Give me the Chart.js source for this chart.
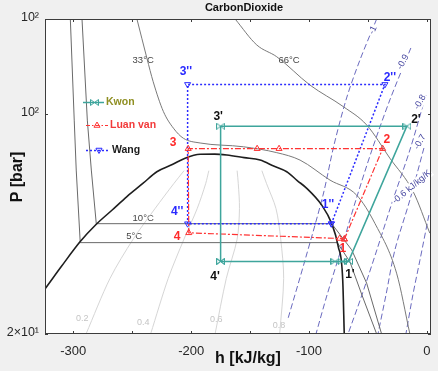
<!DOCTYPE html>
<html>
<head>
<meta charset="utf-8">
<title>CarbonDioxide p-h</title>
<script src="https://cdn.jsdelivr.net/npm/chart.js@4.4.0/dist/chart.umd.min.js"></script>
<style>
  html, body { margin: 0; padding: 0; background: #f0f0f0; }
  #wrap { width: 438px; height: 371px; }
</style>
</head>
<body>
<div id="wrap"><canvas id="phChart" width="438" height="371"></canvas></div>
<script>
// axis ranges and ticks
const hRange = [-324, 3.5];
const pRange = [20, 200];
const xTicks = [-300, -200, -100, 0];
const xTickMarks = [-300, -250, -200, -150, -100, -50, 0];
const yTicks = [20, 100, 200];
const yTickLabels = ['2×10¹', '10²', '10²'];

// saturation dome (liquid branch -> vapour branch)
const domeH = [-335, -323.7, -310, -294.1, -280.5, -267, -254.5, -241, -229.1, -216, -205.1, -192.4, -180, -169.7, -155, -141.5, -130, -118.9, -110, -101.9, -89.2, -80.8, -75.2, -71.4, -70.1];
const domeP = [24.5, 27.9, 32.8, 39.3, 44.6, 49.5, 54.6, 60.1, 65.5, 69.0, 72.3, 74.4, 74.5, 74.0, 72.6, 71.3, 68.3, 65.5, 61.4, 58.0, 51.3, 44.9, 37.9, 29.7, 20];

// isotherms
const t5H = [-302.5, -299.2, -297.5, -294.1, -76, -65.3, -55.1, -42.6];
const t5P = [200, 95.5, 66.3, 39.0, 39.0, 33.9, 26.6, 20];
const t10H = [-292.6, -288.1, -284.7, -280.5, -80.8, -63.8, -51.1, -38.4];
const t10P = [200, 95.5, 66.3, 44.8, 44.8, 37.0, 29.0, 20];
const t33H = [-246, -237.5, -232.2, -223.5, -215, -206.5, -192.4, -155.7, -127.4, -107.6, -82.2, -59.6, -44.1, -25.7, -14.4];
const t33P = [200, 150, 126.4, 101.6, 90, 83.6, 80.8, 78.6, 75.3, 71.3, 61.6, 55.2, 44.9, 31.2, 20];
const t66H = [-162.7, -144.3, -127.4, -99.2, -70.9, -51.1, -31.4, -11.6, 2.5];
const t66P = [200, 165.4, 151.8, 123.4, 105.4, 92.2, 72.3, 56.6, 41.8];

// vapour quality lines
const qualityP = [20, 30, 40, 50, 60, 66];
const x02H = [-289.2, -268.9, -249.2, -230.7, -214.8, -206];
const x04H = [-234.4, -219.5, -206.1, -194.9, -187.7, -185];
const x06H = [-179.7, -170.2, -161, -159, -160, -161];
const x08H = [-124.9, -121.5, -124, -128, -136, -140];

// isentropes
const s10H = [-42.6, -56.8, -68.1, -78.8, -88.1, -103.4, -117.8];
const s10P = [200, 148.2, 112.3, 79.6, 55.2, 34.3, 22.4];
const s09H = [-13.6, -31.4, -46.6, -60.2, -72.9, -84.7, -94.1];
const s09P = [161.8, 110.7, 76.8, 53.3, 37.0, 26.6, 20];
const s08H = [-0.8, -14.4, -28.8, -42.4, -55.1, -66.9];
const s08P = [114.7, 76.8, 53.3, 37.0, 26.6, 20];
const s07H = [-2.5, -14.4, -27.1, -34.7, -41.5];
const s07P = [77.9, 53.3, 37.0, 26.6, 20];
const s06H = [1.7, -5.9, -11.9, -17.8];
const s06P = [47.7, 34.3, 26.6, 20];

// cycles
const kwonH = [-175, -78, -72, -66.5, -17, -175, -175];
const kwonP = [34, 34, 34, 34, 91.4, 91.4, 34];
const luanH = [-70, -37.5, -125.4, -144, -202.5, -202, -74, -70];
const luanP = [40, 77.5, 77.5, 77.5, 77.5, 41.9, 40.2, 40];
const wangH = [-81, -35.6, -203, -203, -81];
const wangP = [44.8, 124, 124, 44.8, 44.8];

// text placed in data coordinates
const stateLabels = [
  ["3''", -204.5, 135.7, '#2a2aff'], ["2''", -31.4, 129.9, '#2a2aff'],
  ["1''", -83.9, 51.3, '#2a2aff'], ["4''", -211.9, 48.8, '#2a2aff'],
  ['3', -215.3, 80.8, '#ff2a2a'], ['2', -33.9, 82.6, '#ff2a2a'],
  ['1', -71.2, 37.2, '#ff2a2a'], ['4', -211.9, 40.6, '#ff2a2a'],
  ["3'", -177.1, 97.7, '#111'], ["2'", -9.3, 95.6, '#111'],
  ["1'", -65.3, 30.8, '#111'], ["4'", -179.7, 30.3, '#111']
];
const isothermLabels = [['33°C', -240.7, 148.2], ['66°C', -116.9, 148.2], ['10°C', -240.7, 46.7], ['5°C', -248.3, 40.9]];
const qualityLabels = [['0.2', -292.4, 22.4], ['0.4', -240.7, 21.7], ['0.6', -178.8, 22.2], ['0.8', -125.4, 21.3]];
const entropyLabels = [['-1', -45.8, 184.6, -65], ['-0.9', -20.3, 146.1, -62], ['-0.8', -5.9, 109.0, -60], ['-0.7', -5.9, 81.4, -60], ['-0.6 kJ/kg/K', -12.7, 58.6, -40]];

const TEAL = '#3ea59c', RED = '#ff3333', BLUE = '#2b2bff', ISEN = '#6a6abf';
const FONT = '"Liberation Sans", Arial, sans-serif';

function pts(hs, ps) {
  return hs.map((h, i) => ({ x: h, y: ps[i] }));
}

// sideways hourglass marker used for Kwon
function bowtie(color) {
  const c = document.createElement('canvas');
  c.width = 9; c.height = 7;
  const g = c.getContext('2d');
  g.strokeStyle = color;
  g.lineWidth = 1;
  g.beginPath();
  g.moveTo(0.5, 0.5); g.lineTo(8.5, 6.5); g.lineTo(8.5, 0.5); g.lineTo(0.5, 6.5); g.closePath();
  g.stroke();
  return c;
}
const kwonMarker = bowtie(TEAL);

function bgLine(data, color, width, dash, smooth) {
  const ds = { data: data, showLine: true, borderColor: color, borderWidth: width, borderDash: dash || [], pointRadius: 0, fill: false, tension: 0 };
  if (smooth === 'mono') ds.cubicInterpolationMode = 'monotone';
  else if (smooth) ds.tension = smooth;
  return ds;
}

const datasets = [
  { label: 'Kwon', data: pts(kwonH, kwonP), showLine: true, borderColor: TEAL, borderWidth: 1.5,
    pointStyle: kwonMarker, pointRadius: 4, tension: 0 },
  { label: 'Luan van', data: pts(luanH, luanP), showLine: true, borderColor: RED, borderWidth: 1.2, borderDash: [6, 2, 2, 2],
    pointStyle: 'triangle', pointRadius: 3.5, pointBorderColor: RED, pointBackgroundColor: 'rgba(0,0,0,0)', pointBorderWidth: 1, tension: 0 },
  { label: 'Wang', data: pts(wangH, wangP), showLine: true, borderColor: BLUE, borderWidth: 1.5, borderDash: [2, 2],
    pointStyle: 'triangle', rotation: 180, pointRadius: 3.5, pointBorderColor: BLUE, pointBackgroundColor: 'rgba(0,0,0,0)', pointBorderWidth: 1, tension: 0 },
  bgLine(pts(domeH, domeP), '#1e1e1e', 1.6, null, 'mono'),
  bgLine(pts(t5H, t5P), '#6a6a6a', 1),
  bgLine(pts(t10H, t10P), '#6a6a6a', 1),
  bgLine(pts(t33H, t33P), '#7a7a7a', 1, null, 'mono'),
  bgLine(pts(t66H, t66P), '#7a7a7a', 1, null, 'mono'),
  bgLine(pts(x02H, qualityP), '#d6d6d6', 1, null, 0.3),
  bgLine(pts(x04H, qualityP), '#d6d6d6', 1, null, 0.3),
  bgLine(pts(x06H, qualityP), '#d6d6d6', 1, null, 0.3),
  bgLine(pts(x08H, qualityP), '#d6d6d6', 1, null, 0.3),
  bgLine(pts(s10H, s10P), ISEN, 1, [6, 3], 0.3),
  bgLine(pts(s09H, s09P), ISEN, 1, [6, 3], 0.3),
  bgLine(pts(s08H, s08P), ISEN, 1, [6, 3], 0.3),
  bgLine(pts(s07H, s07P), ISEN, 1, [6, 3], 0.3),
  bgLine(pts(s06H, s06P), ISEN, 1, [6, 3], 0.3)
];

function text(ctx, str, x, y, font, color, align, angle, bg) {
  ctx.save();
  ctx.translate(x, y);
  if (angle) ctx.rotate(angle * Math.PI / 180);
  ctx.font = font;
  ctx.textAlign = align || 'center';
  ctx.textBaseline = 'middle';
  if (bg) {
    const w = ctx.measureText(str).width;
    ctx.fillStyle = bg;
    ctx.fillRect(-w / 2 - 1, -5, w + 2, 10);
  }
  ctx.fillStyle = color;
  ctx.fillText(str, 0, 0);
  ctx.restore();
}

function triangle(ctx, x, y, r, down, color) {
  const s = down ? -1 : 1;
  ctx.beginPath();
  ctx.moveTo(x, y - s * r);
  ctx.lineTo(x + r * 0.87, y + s * r / 2);
  ctx.lineTo(x - r * 0.87, y + s * r / 2);
  ctx.closePath();
  ctx.strokeStyle = color;
  ctx.lineWidth = 1;
  ctx.stroke();
}

const decor = {
  id: 'decor',
  beforeDraw(chart) {
    const { ctx, chartArea: a } = chart;
    ctx.save();
    ctx.fillStyle = '#f0f0f0';
    ctx.fillRect(0, 0, chart.width, chart.height);
    ctx.fillStyle = '#ffffff';
    ctx.fillRect(a.left, a.top, a.right - a.left, a.bottom - a.top);
    ctx.restore();
  },
  beforeDatasetsDraw(chart) {
    // labels that sit under the cycle lines
    const { ctx } = chart;
    const xs = chart.scales.x, ys = chart.scales.y;
    isothermLabels.forEach(l => text(ctx, l[0], xs.getPixelForValue(l[1]), ys.getPixelForValue(l[2]), '9.5px ' + FONT, '#444', 'center'));
    qualityLabels.forEach(l => text(ctx, l[0], xs.getPixelForValue(l[1]), ys.getPixelForValue(l[2]), '9px ' + FONT, '#c4c4c4', 'center'));
  },
  afterDatasetsDraw(chart) {
    const { ctx, chartArea: a } = chart;
    const xs = chart.scales.x, ys = chart.scales.y;

    entropyLabels.forEach(l => text(ctx, l[0], xs.getPixelForValue(l[1]), ys.getPixelForValue(l[2]), '9px ' + FONT, '#4646a0', 'center', l[3], '#fff'));
    stateLabels.forEach(l => text(ctx, l[0], xs.getPixelForValue(l[1]), ys.getPixelForValue(l[2]), 'bold 12px ' + FONT, l[3], 'center'));

    // pressure tick labels, right aligned against the frame
    yTicks.forEach((v, i) => text(ctx, yTickLabels[i], a.left - 6, ys.getPixelForValue(v) - 1, '12.5px ' + FONT, '#262626', 'right'));

    // plot frame with inward ticks
    ctx.save();
    ctx.strokeStyle = '#3c3c3c';
    ctx.lineWidth = 1;
    ctx.strokeRect(a.left + 0.5, a.top + 0.5, a.right - a.left - 1, a.bottom - a.top - 1);
    ctx.beginPath();
    xTickMarks.forEach(v => {
      const x = Math.round(xs.getPixelForValue(v)) + 0.5;
      ctx.moveTo(x, a.bottom); ctx.lineTo(x, a.bottom - 3);
      ctx.moveTo(x, a.top); ctx.lineTo(x, a.top + 3);
    });
    yTicks.forEach(v => {
      const y = Math.round(ys.getPixelForValue(v)) + 0.5;
      ctx.moveTo(a.left, y); ctx.lineTo(a.left + 3, y);
      ctx.moveTo(a.right, y); ctx.lineTo(a.right - 3, y);
    });
    ctx.stroke();

    // legend
    ctx.lineWidth = 1.5;
    ctx.strokeStyle = TEAL;
    ctx.setLineDash([]);
    ctx.beginPath(); ctx.moveTo(83, 102.5); ctx.lineTo(104, 102.5); ctx.stroke();
    ctx.drawImage(kwonMarker, 90, 99);
    ctx.lineWidth = 1.2;
    ctx.strokeStyle = RED;
    ctx.setLineDash([4, 2, 1.5, 2]);
    ctx.beginPath(); ctx.moveTo(86, 125.5); ctx.lineTo(108, 125.5); ctx.stroke();
    ctx.setLineDash([]);
    triangle(ctx, 97, 125.5, 3.5, false, RED);
    ctx.lineWidth = 1.5;
    ctx.strokeStyle = BLUE;
    ctx.setLineDash([2, 2]);
    ctx.beginPath(); ctx.moveTo(86, 150.5); ctx.lineTo(110, 150.5); ctx.stroke();
    ctx.setLineDash([]);
    triangle(ctx, 99, 150, 3.5, true, BLUE);
    ctx.restore();
    text(ctx, 'Kwon', 106, 102.5, 'bold 10.5px ' + FONT, '#8f8f22', 'left');
    text(ctx, 'Luan van', 110, 125.5, 'bold 10.5px ' + FONT, '#f23a3a', 'left');
    text(ctx, 'Wang', 112, 150.5, 'bold 10.5px ' + FONT, '#1c1c1c', 'left');

    // title and axis titles
    text(ctx, 'CarbonDioxide', 244, 8, 'bold 11px ' + FONT, '#111', 'center');
    text(ctx, 'h [kJ/kg]', 248, 359, 'bold 16px ' + FONT, '#111', 'center');
    text(ctx, 'P [bar]', 18, 177, 'bold 16px ' + FONT, '#111', 'center', -90);
  }
};

new Chart(document.getElementById('phChart'), {
  type: 'scatter',
  data: { datasets: datasets },
  plugins: [decor],
  options: {
    responsive: false,
    animation: false,
    devicePixelRatio: 1,
    layout: { padding: { top: 19, right: 7, bottom: 0, left: 0 } },
    plugins: { legend: { display: false }, tooltip: { enabled: false }, title: { display: false } },
    scales: {
      x: {
        type: 'linear',
        min: hRange[0], max: hRange[1],
        grid: { display: false },
        border: { display: false },
        afterBuildTicks: s => { s.ticks = xTicks.map(v => ({ value: v })); },
        afterFit: s => { s.height = 37; },
        ticks: { autoSkip: false, maxRotation: 0, padding: 2, color: '#262626', font: { family: FONT, size: 13 }, callback: v => String(v) }
      },
      y: {
        type: 'logarithmic',
        min: pRange[0], max: pRange[1],
        grid: { display: false },
        border: { display: false },
        afterBuildTicks: s => { s.ticks = yTicks.map(v => ({ value: v })); },
        afterFit: s => { s.width = 45; },
        ticks: { display: false }
      }
    }
  }
});
</script>
</body>
</html>
